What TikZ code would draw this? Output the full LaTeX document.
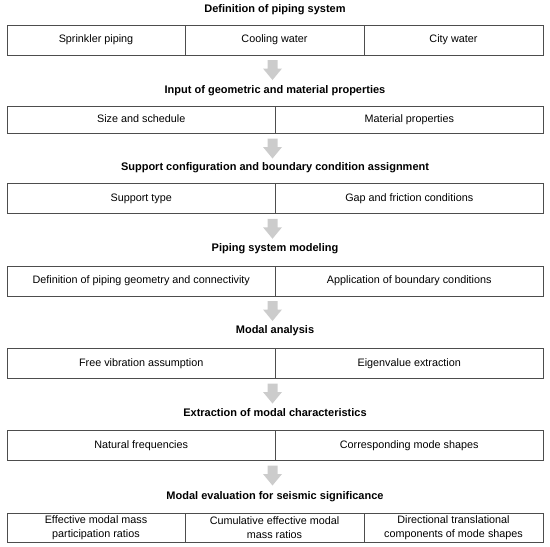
\documentclass[tikz,border=0pt]{standalone}
\usepackage{fontspec}
\setmainfont{Liberation Sans}
\usetikzlibrary{calc}
\definecolor{boxline}{HTML}{4D4D4D}
\definecolor{arrowgray}{HTML}{CCCCCC}
\newcommand\flowarrowfrom[1]{%
  \fill[flowarrow] ($(ax |- #1)+(-5,4.5)$) -- ++(10,0) -- ++(0,8.5) -- ++(4.5,0)
    -- ++(-9.5,11.5) -- ++(-9.5,-11.5) -- ++(4.5,0) -- cycle;}
\begin{document}
\begin{tikzpicture}[x=1pt,y=-1pt,
  cell/.style={draw=boxline, line width=1pt, rectangle, inner sep=0pt, align=center,
    font=\fontsize{10.8}{14}\selectfont, text height=7.8pt, text depth=2.3pt},
  heading/.style={font=\fontsize{11}{13}\selectfont\bfseries, inner sep=0pt,
    text height=8pt, text depth=2.3pt},
  flowarrow/.style={fill=arrowgray, draw=none}]
\useasboundingbox (0,0) rectangle (550,547);
\coordinate (ax) at (272.5,0);

% Row 1
\node[heading] (t1) at (275,10) {Definition of piping system};
\node[cell, minimum width=178pt, minimum height=30pt] (r1a) at (96,40) {Sprinkler piping};
\node[cell, minimum width=179pt, minimum height=30pt] (r1b) at (274.5,40) {Cooling water};
\node[cell, minimum width=179pt, minimum height=30pt] (r1c) at (453.5,40) {City water};
\flowarrowfrom{r1b.south}

% Row 2
\node[heading] (t2) at (275,90.5) {Input of geometric and material properties};
\node[cell, minimum width=268.5pt, minimum height=27pt] (r2a) at (141.25,120) {Size and schedule};
\node[cell, minimum width=267.5pt, minimum height=27pt] (r2b) at (409.25,120) {Material properties};
\flowarrowfrom{r2a.south}

% Row 3
\node[heading] (t3) at (275,168) {Support configuration and boundary condition assignment};
\node[cell, minimum width=268.5pt, minimum height=30.5pt] (r3a) at (141.25,198.5) {Support type};
\node[cell, minimum width=267.5pt, minimum height=30.5pt] (r3b) at (409.25,198.5) {Gap and friction conditions};
\flowarrowfrom{r3a.south}

% Row 4
\node[heading] (t4) at (275,249) {Piping system modeling};
\node[cell, minimum width=268.5pt, minimum height=30pt] (r4a) at (141.25,281) {Definition of piping geometry and connectivity};
\node[cell, minimum width=267.5pt, minimum height=30pt] (r4b) at (409.25,281) {Application of boundary conditions};
\flowarrowfrom{r4a.south}

% Row 5
\node[heading] (t5) at (275,331) {Modal analysis};
\node[cell, minimum width=268.5pt, minimum height=30pt] (r5a) at (141.25,363.5) {Free vibration assumption};
\node[cell, minimum width=267.5pt, minimum height=30pt] (r5b) at (409.25,363.5) {Eigenvalue extraction};
\flowarrowfrom{r5a.south}

% Row 6
\node[heading] (t6) at (275,414) {Extraction of modal characteristics};
\node[cell, minimum width=268.5pt, minimum height=30pt] (r6a) at (141.25,445.5) {Natural frequencies};
\node[cell, minimum width=267.5pt, minimum height=30pt] (r6b) at (409.25,445.5) {Corresponding mode shapes};
\flowarrowfrom{r6a.south}

% Row 7
\node[heading] (t7) at (275,497) {Modal evaluation for seismic significance};
\node[cell, minimum width=178pt, minimum height=29pt, text height=, text depth=] (r7a) at (96,527.5) {Effective modal mass\\participation ratios};
\node[cell, minimum width=179pt, minimum height=29pt, text height=, text depth=] (r7b) at (274.5,527.5) {Cumulative effective modal\\mass ratios};
\node[cell, minimum width=179pt, minimum height=29pt, text height=, text depth=] (r7c) at (453.5,527.5) {Directional translational\\components of mode shapes};
\end{tikzpicture}
\end{document}
